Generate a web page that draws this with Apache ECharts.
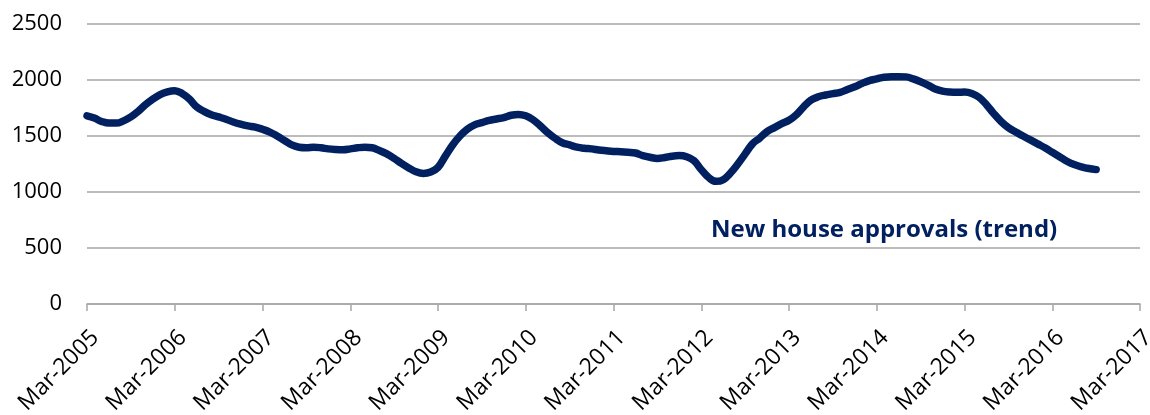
<!DOCTYPE html>
<html>
<head>
<meta charset="utf-8">
<script src="https://cdn.jsdelivr.net/npm/echarts@6/dist/echarts.min.js"></script>
<style>
  html, body { margin: 0; padding: 0; background: #fff; }
  #main { width: 1150px; height: 415px; }
</style>
</head>
<body>
<div id="main"></div>
<script>
// monthly categories Mar-2005 .. Mar-2017
var monthNames = ['Jan', 'Feb', 'Mar', 'Apr', 'May', 'Jun', 'Jul', 'Aug', 'Sep', 'Oct', 'Nov', 'Dec'];
var months = [];
for (var i = 0; i <= 144; i++) {
    var m = (2 + i) % 12;
    var y = 2005 + Math.floor((2 + i) / 12);
    months.push(monthNames[m] + '-' + y);
}

// new house approvals (trend), Mar-2005 .. Sep-2016
var approvals = [
    1680, 1660, 1630, 1615, 1615, 1635, 1670, 1720, 1780, 1830, 1870, 1895,   // 2005/06
    1905, 1880, 1830, 1760, 1720, 1690, 1670, 1650, 1625, 1605, 1590, 1580,   // 2006/07
    1560, 1535, 1500, 1460, 1420, 1400, 1395, 1400, 1395, 1385, 1380, 1378,   // 2007/08
    1385, 1395, 1400, 1395, 1370, 1340, 1300, 1255, 1215, 1180, 1165, 1178,   // 2008/09
    1220, 1320, 1420, 1500, 1560, 1600, 1620, 1640, 1652, 1665, 1685, 1692,   // 2009/10
    1680, 1645, 1590, 1530, 1480, 1440, 1420, 1400, 1390, 1385, 1375, 1368,   // 2010/11
    1362, 1360, 1355, 1348, 1325, 1310, 1300, 1308, 1320, 1325, 1315, 1280,   // 2011/12
    1200, 1130, 1095, 1110, 1170, 1250, 1340, 1430, 1482, 1539, 1575, 1610,   // 2012/13
    1640, 1690, 1760, 1820, 1850, 1866, 1878, 1890, 1915, 1940, 1970, 1995,   // 2013/14
    2010, 2025, 2030, 2030, 2028, 2010, 1985, 1955, 1920, 1900, 1892, 1890,   // 2014/15
    1892, 1880, 1845, 1780, 1700, 1630, 1575, 1535, 1500, 1465, 1430, 1395,   // 2015/16
    1355, 1315, 1275, 1245, 1225, 1210, 1200                                   // 2016
];

var yTicks = [0, 500, 1000, 1500, 2000, 2500];
var seriesLabel = 'New house approvals (trend)';

var chart = echarts.init(document.getElementById('main'));
var option = {
    animation: false,
    grid: {
        left: 87,
        right: 10,
        top: 24,
        bottom: 111,
        outerBoundsMode: 'none'
    },
    xAxis: {
        type: 'category',
        data: months,
        boundaryGap: false,
        axisLine: { lineStyle: { color: '#a6a6a6', width: 1.5 } },
        axisTick: { interval: 11, length: 7, lineStyle: { color: '#a6a6a6', width: 1.5 } },
        axisLabel: {
            interval: 11,
            rotate: 45,
            margin: 22,
            verticalAlign: 'top',
            color: '#000',
            fontFamily: 'Open Sans',
            fontSize: 23
        },
        splitLine: { show: false }
    },
    yAxis: {
        type: 'value',
        min: yTicks[0],
        max: yTicks[yTicks.length - 1],
        interval: 500,
        axisLine: { show: false },
        axisTick: { show: false },
        axisLabel: {
            margin: 25,
            color: '#000',
            fontFamily: 'Open Sans',
            fontSize: 22,
            formatter: function (v) { return String(v); }
        },
        splitLine: { lineStyle: { color: '#a6a6a6', width: 1.5 } }
    },
    graphic: [{
        type: 'text',
        left: 711,
        top: 218,
        style: {
            text: seriesLabel,
            fill: '#002060',
            font: 'bold 24px "Open Sans"'
        }
    }],
    series: [{
        name: seriesLabel,
        type: 'line',
        data: approvals,
        smooth: 0.4,
        symbol: 'none',
        lineStyle: { color: '#002060', width: 7.5, cap: 'round', join: 'round' }
    }]
};
chart.setOption(option);
</script>
</body>
</html>
